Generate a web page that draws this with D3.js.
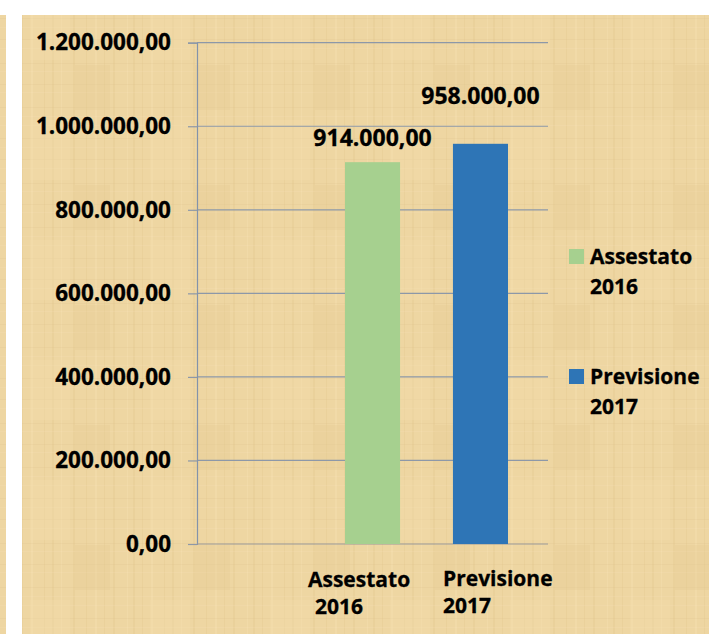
<!DOCTYPE html>
<html>
<head>
<meta charset="utf-8">
<script src="https://cdn.jsdelivr.net/npm/d3@7"></script>
<style>
  body { margin: 0; background: #fff; }
  svg { display: block; }
  text { font-family: "Open Sans", "Noto Sans", sans-serif; font-weight: bold; fill: #000; }
</style>
</head>
<body>
<svg width="709" height="634"></svg>
<script>
// chart values
var categories = ["Assestato 2016", "Previsione 2017"];
var catLines = [["Assestato", "2016"], ["Previsione", "2017"]];
var values = [914000, 958000];
var colors = ["#a6d08f", "#2e75b6"];
var yTicks = [0, 200000, 400000, 600000, 800000, 1000000, 1200000];

var svg = d3.select("svg");

// papyrus-ish background
var defs = svg.append("defs");
var pat = defs.append("pattern")
    .attr("id", "papyrus")
    .attr("patternUnits", "userSpaceOnUse")
    .attr("width", 120).attr("height", 120);
pat.append("rect").attr("width", 120).attr("height", 120).attr("fill", "#eed6a2");
// fixed weave lines
var vx = [7, 13, 22, 31, 44, 52, 61, 73, 86, 95, 104, 113];
var hy = [5, 18, 27, 39, 48, 63, 71, 84, 92, 107, 116];
vx.forEach(function (x, i) {
    pat.append("rect").attr("x", x).attr("y", 0).attr("width", 1 + i % 2).attr("height", 120)
        .attr("fill", i % 3 == 0 ? "#fbe9c0" : "#d9bf86").attr("opacity", 0.22);
});
hy.forEach(function (y, i) {
    pat.append("rect").attr("x", 0).attr("y", y).attr("width", 120).attr("height", 1)
        .attr("fill", i % 2 == 0 ? "#f9e6bd" : "#d7bc84").attr("opacity", 0.18);
});
pat.append("rect").attr("x", 30).attr("y", 0).attr("width", 40).attr("height", 60).attr("fill", "#f3dcaa").attr("opacity", 0.4);
pat.append("rect").attr("x", 75).attr("y", 65).attr("width", 35).attr("height", 45).attr("fill", "#e6cc92").attr("opacity", 0.3);

svg.append("rect").attr("x", 0).attr("y", 15).attr("width", 6).attr("height", 619).attr("fill", "url(#papyrus)");
svg.append("rect").attr("x", 22).attr("y", 15).attr("width", 687).attr("height", 619).attr("fill", "url(#papyrus)");

// scales
var y = d3.scaleLinear().domain([0, 1200000]).range([544, 42.7]);
var x = d3.scaleBand().domain(categories).range([345, 508]).paddingInner(0.49).paddingOuter(0);

var fmt = function (v) {
    var s = d3.format(",.2f")(v);
    return s.replace(/,/g, "#").replace(".", ",").replace(/#/g, ".");
};

// gridlines
svg.append("g").selectAll("line")
    .data(yTicks.slice(1))
    .enter().append("line")
    .attr("x1", 197).attr("x2", 548)
    .attr("y1", d => y(d)).attr("y2", d => y(d))
    .attr("stroke", "#8d98a8").attr("stroke-width", 1.2);

// y axis
var yAxis = svg.append("g")
    .attr("transform", "translate(197,0)")
    .call(d3.axisLeft(y).tickValues(yTicks).tickFormat(fmt).tickSize(9).tickPadding(17));
yAxis.select(".domain").attr("stroke", "#8393aa").attr("stroke-width", 1.2);
yAxis.selectAll(".tick line").attr("stroke", "#8d98a8").attr("stroke-width", 1.2);
yAxis.selectAll("text").attr("font-size", 22.5).attr("font-family", "Open Sans").attr("font-weight", "bold")
    .attr("fill", "#000").attr("stroke", "#000").attr("stroke-width", 0.3);

// baseline
svg.append("line")
    .attr("x1", 197).attr("x2", 548).attr("y1", y(0)).attr("y2", y(0))
    .attr("stroke", "#9a9a9a").attr("stroke-width", 1.2);

// bars
svg.append("g").selectAll("rect")
    .data(values)
    .enter().append("rect")
    .attr("x", (d, i) => x(categories[i]))
    .attr("y", d => y(d))
    .attr("width", x.bandwidth())
    .attr("height", d => y(0) - y(d))
    .attr("fill", (d, i) => colors[i]);

// value labels
var labelLift = [16, 40];
svg.append("g").selectAll("text")
    .data(values)
    .enter().append("text")
    .attr("x", (d, i) => x(categories[i]) + x.bandwidth() / 2)
    .attr("y", (d, i) => y(d) - labelLift[i])
    .attr("text-anchor", "middle")
    .attr("font-size", 23)
    .attr("stroke", "#000").attr("stroke-width", 0.3)
    .text(d => fmt(d));

// category labels
var catX = [[308, 315], [443, 443]];
catLines.forEach(function (lines, i) {
    var t = svg.append("text").attr("font-size", 21).attr("stroke", "#000").attr("stroke-width", 0.3);
    t.append("tspan").attr("x", catX[i][0]).attr("y", 587 - i * 1.5).text(lines[0]);
    t.append("tspan").attr("x", catX[i][1]).attr("y", 614 - i * 1.5).text(lines[1]);
});

// legend
var legend = svg.append("g").selectAll("g")
    .data(catLines)
    .enter().append("g")
    .attr("transform", (d, i) => "translate(569," + (249 + i * 120) + ")");
legend.append("rect").attr("width", 15).attr("height", 15).attr("fill", (d, i) => colors[i]);
legend.append("text").attr("x", 21).attr("y", 15).attr("font-size", 21).attr("stroke", "#000").attr("stroke-width", 0.3).text(d => d[0]);
legend.append("text").attr("x", 21).attr("y", 45).attr("font-size", 21).attr("stroke", "#000").attr("stroke-width", 0.3).text(d => d[1]);
</script>
</body>
</html>
